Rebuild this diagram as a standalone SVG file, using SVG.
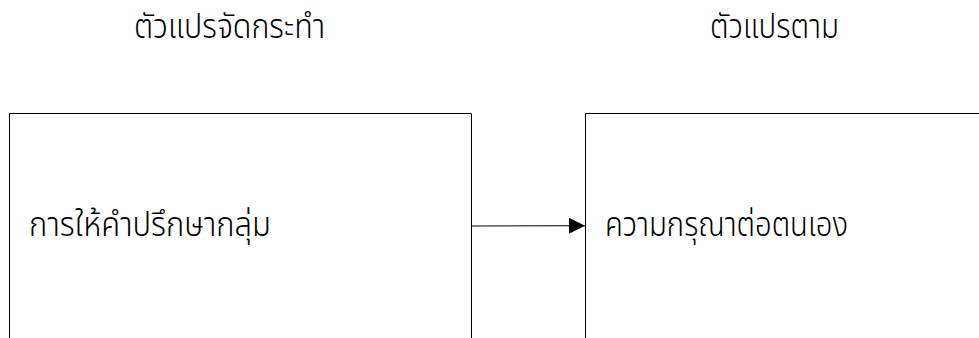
<svg xmlns="http://www.w3.org/2000/svg" width="979" height="338" viewBox="0 0 979 338">
<style>
text{font-family:"Noto Sans Thai","Tahoma","Noto Sans","DejaVu Sans",sans-serif;font-size:34px;font-weight:300;fill:#000}
.box{fill:none;stroke:#000;stroke-width:1}
</style>
<defs>
<marker id="ah" markerWidth="16" markerHeight="16" refX="16" refY="8" orient="auto" markerUnits="userSpaceOnUse">
<path d="M0,0 L16,8 L0,16 Z" fill="#000"/>
</marker>
</defs>
<rect width="979" height="338" fill="#fff"/>
<g id="title-left"><text x="134" y="38" textLength="191" lengthAdjust="spacingAndGlyphs">ตัวแปรจัดกระทำ</text></g>
<g id="title-right"><text x="710" y="38" textLength="129" lengthAdjust="spacingAndGlyphs">ตัวแปรตาม</text></g>
<g id="node-left">
<path class="box" d="M9.5,340 V113.5 H471.5 V340"/>
<text x="29" y="236" textLength="242" lengthAdjust="spacingAndGlyphs">การให้คำปรึกษากลุ่ม</text>
</g>
<g id="node-right">
<path class="box" d="M585.5,340 V113.5 H985"/>
<text x="605" y="236" textLength="243" lengthAdjust="spacingAndGlyphs">ความกรุณาต่อตนเอง</text>
</g>
<g id="connectors">
<line x1="471.5" y1="226" x2="585" y2="225.7" stroke="#000" stroke-width="1" marker-end="url(#ah)"/>
</g>
</svg>
